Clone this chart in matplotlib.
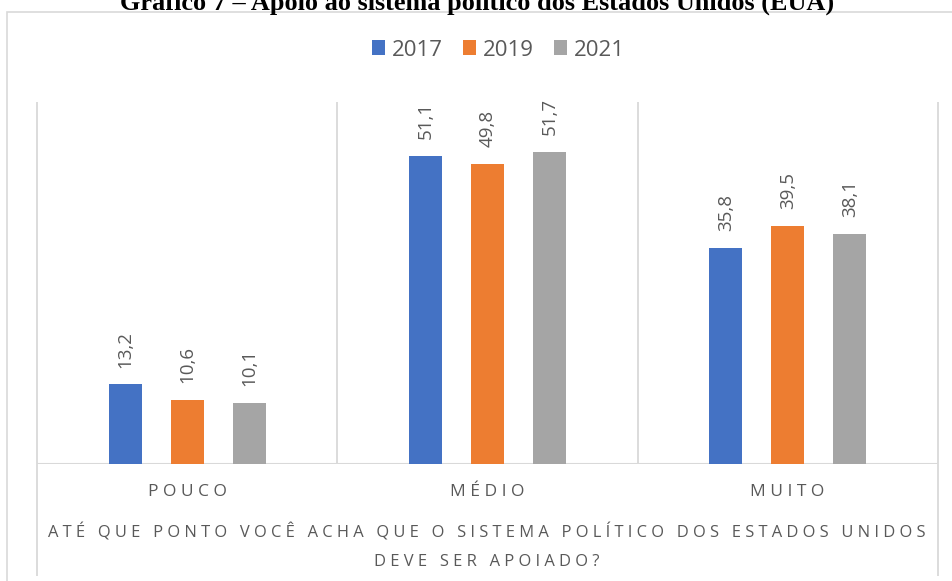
import numpy as np
import matplotlib
matplotlib.use("Agg")
from matplotlib import pyplot as plt
from matplotlib.patches import Rectangle

# data
categories = ["POUCO", "MÉDIO", "MUITO"]
years = ["2017", "2019", "2021"]
v2017 = [13.2, 51.1, 35.8]
v2019 = [10.6, 49.8, 39.5]
v2021 = [10.1, 51.7, 38.1]
colors = ["#4472C4", "#ED7D31", "#A5A5A5"]

title = "Gráfico 7 – Apoio ao sistema político dos Estados Unidos (EUA)"
axis_title = ["ATÉ QUE PONTO VOCÊ ACHA QUE O SISTEMA POLÍTICO DOS ESTADOS UNIDOS",
              "DEVE SER APOIADO?"]

txt = "#595959"
grid = "#D9D9D9"
sans = ["Open Sans", "DejaVu Sans"]


def spaced(s):
    # imitate excel letter spacing
    return "   ".join(" ".join(w) for w in s.split(" "))


W, H = 952, 581
fig = plt.figure(figsize=(W / 100, H / 100), dpi=100)

# outer chart frame
fig.patches.append(Rectangle((7 / W, -0.1), 1.1, 1 - 12 / H + 0.1,
                             transform=fig.transFigure, fill=False,
                             edgecolor=grid, linewidth=1.2))

# title sits partly above the top edge, as in the source image
fig.text(477 / W, 1 - 10 / H, title, ha="center", va="baseline",
         family="Liberation Serif", weight="bold", fontsize=18.9, color="black")

ax = fig.add_axes([37 / W, 117 / H, (938 - 37) / W, (464 - 102) / H])
ax.set_xlim(-0.5, 2.5)
ax.set_ylim(0, 60)
for s in ax.spines.values():
    s.set_visible(False)
ax.set_xticks([])
ax.set_yticks([])

x = np.arange(len(categories))
width = 0.11
step = 0.2067
series = [v2017, v2019, v2021]
for i, vals in enumerate(series):
    pos = x + (i - 1) * step
    bars = ax.bar(pos, vals, width, color=colors[i], label=years[i], zorder=3)
    for b, v in zip(bars, vals):
        ax.annotate(f"{v:.1f}".replace(".", ","),
                    (b.get_x() + b.get_width() / 2, v),
                    xytext=(0, 12), textcoords="offset points",
                    rotation=90, ha="center", va="bottom",
                    fontsize=13.5, color=txt, family=sans)

# category separators; the outer ones reach into the label area
ax.vlines([0.5, 1.5], 0, 60, colors=grid, linewidth=1.3, zorder=1)
ax.vlines([-0.5, 2.5], -18.5, 60, colors=grid, linewidth=1.3,
          clip_on=False, zorder=1)
ax.axhline(0, color=grid, linewidth=1.5, zorder=2)

for xi, c in zip(x, categories):
    fig.text((37 + 150 + 300 * xi) / W, 1 - 492 / H, spaced(c),
             ha="center", va="center", fontsize=12.5, color=txt, family=sans)

fig.text(487 / W, 1 - 533 / H, spaced(axis_title[0]), ha="center",
         va="center", fontsize=11.9, color=txt, family=sans)
fig.text(487 / W, 1 - 562 / H, spaced(axis_title[1]), ha="center",
         va="center", fontsize=11.9, color=txt, family=sans)

fig.legend(loc="center", bbox_to_anchor=(498 / W, 1 - 50 / H), ncol=3,
           frameon=False, prop={"family": sans, "size": 16},
           labelcolor=txt, handlelength=0.6, handleheight=0.63,
           handletextpad=0.3, columnspacing=0.9)

fig.savefig("out.png", dpi=100)
